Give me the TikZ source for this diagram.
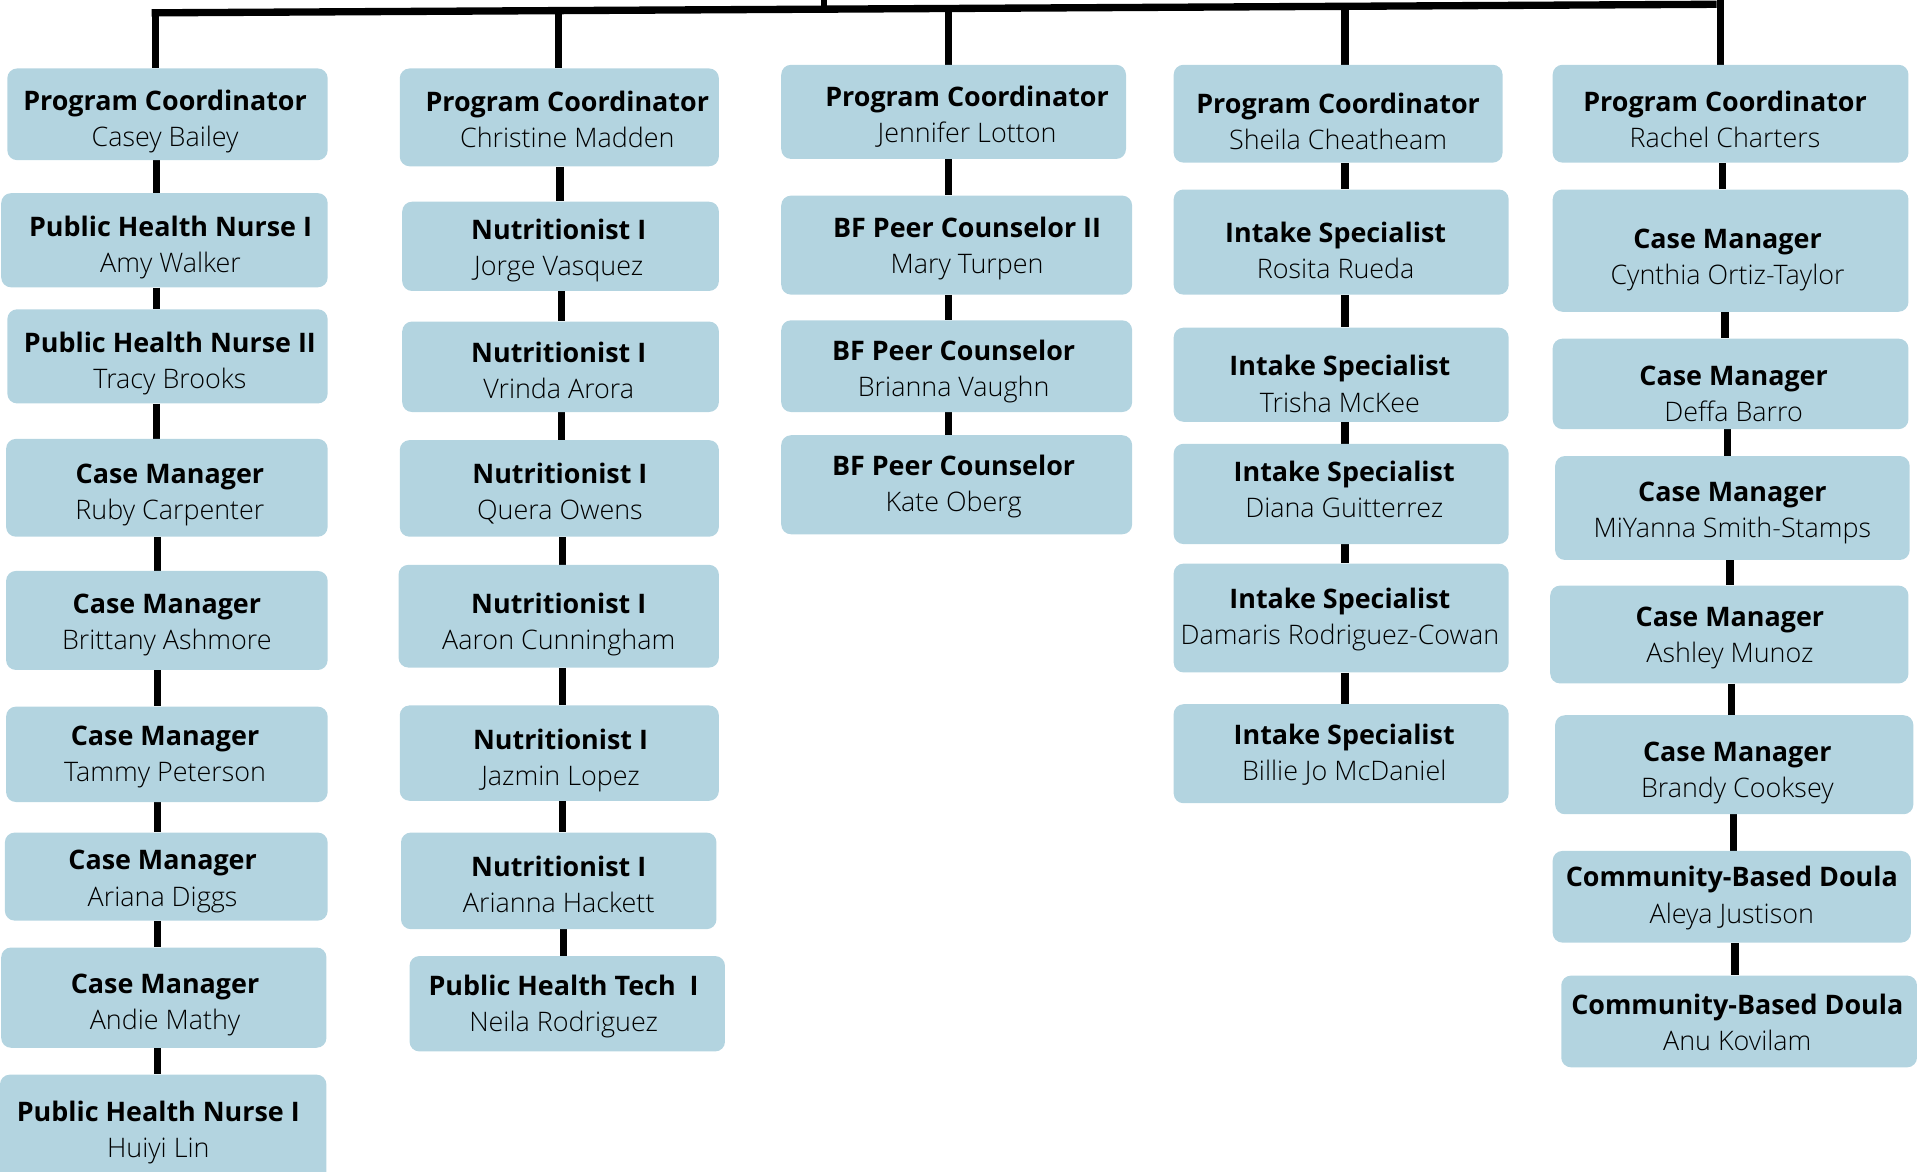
\documentclass[tikz,border=0pt]{standalone}
\usepackage{fontspec}
\setmainfont{Open Sans}
\newfontfamily\lightf{Open Sans Light}
\usetikzlibrary{backgrounds}
\definecolor{boxblue}{HTML}{B3D4E0}
\tikzset{
  obox/.style={fill=boxblue, rounded corners=8pt, inner sep=0pt, draw=none},
  otext/.style={align=center, font=\fontsize{21.5}{29.5}\selectfont, inner sep=0pt, text=black},
  conn/.style={line width=6pt, draw=black},
}
\newcommand\ob[9]{%
  \node[obox, minimum width={#4-#2}, minimum height={#5-#3}] (#1) at ({(#2+#4)/2},{-(#3+#5)/2}) {};
  \node[otext] (#1t) at ([xshift={#6}, yshift={-1*(#7)-2.5}]#1.center) {{\fontsize{22}{29.5}\selectfont\bfseries #8}\\{\lightf\fontsize{22}{29.5}\selectfont #9}};
}
\begin{document}
\begin{tikzpicture}[x=1pt,y=1pt]
\useasboundingbox (0,0) rectangle (1568,-958);
% column 1
\ob{a1}{6}{56}{268}{131}{-2}{3.5}{Program Coordinator}{Casey Bailey}
\ob{a2}{1}{158}{268}{235}{5}{3.5}{Public Health Nurse I}{Amy Walker}
\ob{a3}{6}{253}{268}{330}{2}{3.5}{Public Health Nurse II}{Tracy Brooks}
\ob{a4}{5}{359}{268}{439}{2.5}{3}{Case Manager}{Ruby Carpenter}
\ob{a5}{5}{467}{268}{548}{0}{1}{Case Manager}{Brittany Ashmore}
\ob{a6}{5}{578}{268}{656}{-1.5}{0}{Case Manager}{Tammy Peterson}
\ob{a7}{4}{681}{268}{753}{-3}{1.5}{Case Manager}{Ariana Diggs}
\ob{a8}{1}{775}{267}{857}{1}{3.5}{Case Manager}{Andie Mathy}
\ob{a9}{0}{879}{267}{966}{-4}{1.5}{Public Health Nurse I}{Huiyi Lin}
% column 2
\ob{b1}{327}{56}{588}{136}{6.5}{-1}{Program Coordinator}{Christine Madden}
\ob{b2}{329}{165}{588}{238}{-1.5}{1}{Nutritionist I}{Jorge Vasquez}
\ob{b3}{329}{263}{588}{337}{-1.5}{0.5}{Nutritionist I}{Vrinda Arora}
\ob{b4}{327}{360}{588}{439}{0.5}{1.5}{Nutritionist I}{Quera Owens}
\ob{b5}{326}{462}{588}{546}{0}{4.5}{Nutritionist I}{Aaron Cunningham}
\ob{b6}{327}{577}{588}{655}{1}{3.5}{Nutritionist I}{Jazmin Lopez}
\ob{b7}{328}{681}{586}{760}{0}{0.5}{Nutritionist I}{Arianna Hackett}
\ob{b8}{335}{782}{593}{860}{-3}{0}{Public Health Tech\ \ I}{Neila Rodriguez}
% column 3
\ob{c1}{639}{53}{921}{130}{11}{1.5}{Program Coordinator}{Jennifer Lotton}
\ob{c2}{639}{160}{926}{241}{8.5}{0}{BF Peer Counselor II}{Mary Turpen}
\ob{c3}{639}{262}{926}{337}{-2.5}{1.5}{BF Peer Counselor}{Brianna Vaughn}
\ob{c4}{639}{356}{926}{437}{-2.5}{-1}{BF Peer Counselor}{Kate Oberg}
% column 4
\ob{d1}{960}{53}{1229}{133}{0}{3.5}{Program Coordinator}{Sheila Cheatheam}
\ob{d2}{960}{155}{1234}{241}{-4.5}{4.5}{Intake Specialist}{Rosita Rueda}
\ob{d3}{960}{268}{1234}{345}{-1}{5}{Intake Specialist}{Trisha McKee}
\ob{d4}{960}{363}{1234}{445}{2.5}{-6.5}{Intake Specialist}{Diana Guitterrez}
\ob{d5}{960}{461}{1234}{550}{-1}{-1}{Intake Specialist}{Damaris Rodriguez-Cowan}
\ob{d6}{960}{576}{1234}{657}{2.5}{-2}{Intake Specialist}{Billie Jo McDaniel}
% column 5
\ob{e1}{1270}{53}{1561}{133}{-4.5}{2}{Program Coordinator}{Rachel Charters}
\ob{e2}{1270}{155}{1561}{255}{-2.5}{5.5}{Case Manager}{Cynthia Ortiz-Taylor}
\ob{e3}{1270}{277}{1561}{351}{2.5}{5.5}{Case Manager}{Deffa Barro}
\ob{e4}{1272}{373}{1562}{458}{0}{1.5}{Case Manager}{MiYanna Smith-Stamps}
\ob{e5}{1268}{479}{1561}{559}{0.5}{0}{Case Manager}{Ashley Munoz}
\ob{e6}{1272}{585}{1565}{666}{2.5}{4.5}{Case Manager}{Brandy Cooksey}
\ob{e7}{1270}{696}{1563}{771}{0}{-1.5}{Community-Based Doula}{Aleya Justison}
\ob{e8}{1277}{798}{1568}{873}{-1.5}{-1.5}{Community-Based Doula}{Anu Kovilam}
% connectors
\begin{scope}[on background layer]
  \coordinate (barL) at (124,-10.5);
  \coordinate (barR) at (1404,-3.5);
  \coordinate (stubtop) at (674,0);
  \coordinate (e0) at (1407,0);
  \draw[conn] (barL) -- (barR);
  \draw[line width=5pt] (stubtop) -- (674,-7);
  \draw[conn] (127,-10.5) -- (a1.north -| 127,0);
  \draw[conn] (457,-8.5) -- (b1.north -| 457,0);
  \draw[conn] (776,-6.5) -- (c1.north -| 776,0);
  \draw[conn] (1100,-5) -- (d1.north -| 1100,0);
  \draw[conn] (e0) -- (e1.north -| e0);
  \foreach \u/\v/\x in {a1/a2/128,a2/a3/128,a3/a4/128,a4/a5/129,a5/a6/129,a6/a7/129,a7/a8/129,a8/a9/129,
      b1/b2/458,b2/b3/459,b3/b4/459,b4/b5/460,b5/b6/460,b6/b7/460,b7/b8/461,
      c1/c2/776,c2/c3/776,c3/c4/776,
      d1/d2/1100,d2/d3/1100,d3/d4/1100,d4/d5/1100,d5/d6/1100,
      e1/e2/1409,e2/e3/1411,e3/e4/1413,e4/e5/1415,e5/e6/1416,e6/e7/1418,e7/e8/1419}{
    \coordinate (cx) at (\x,0);
    \draw[conn] (\u.south -| cx) -- (\v.north -| cx);
  }
\end{scope}
\end{tikzpicture}
\end{document}
